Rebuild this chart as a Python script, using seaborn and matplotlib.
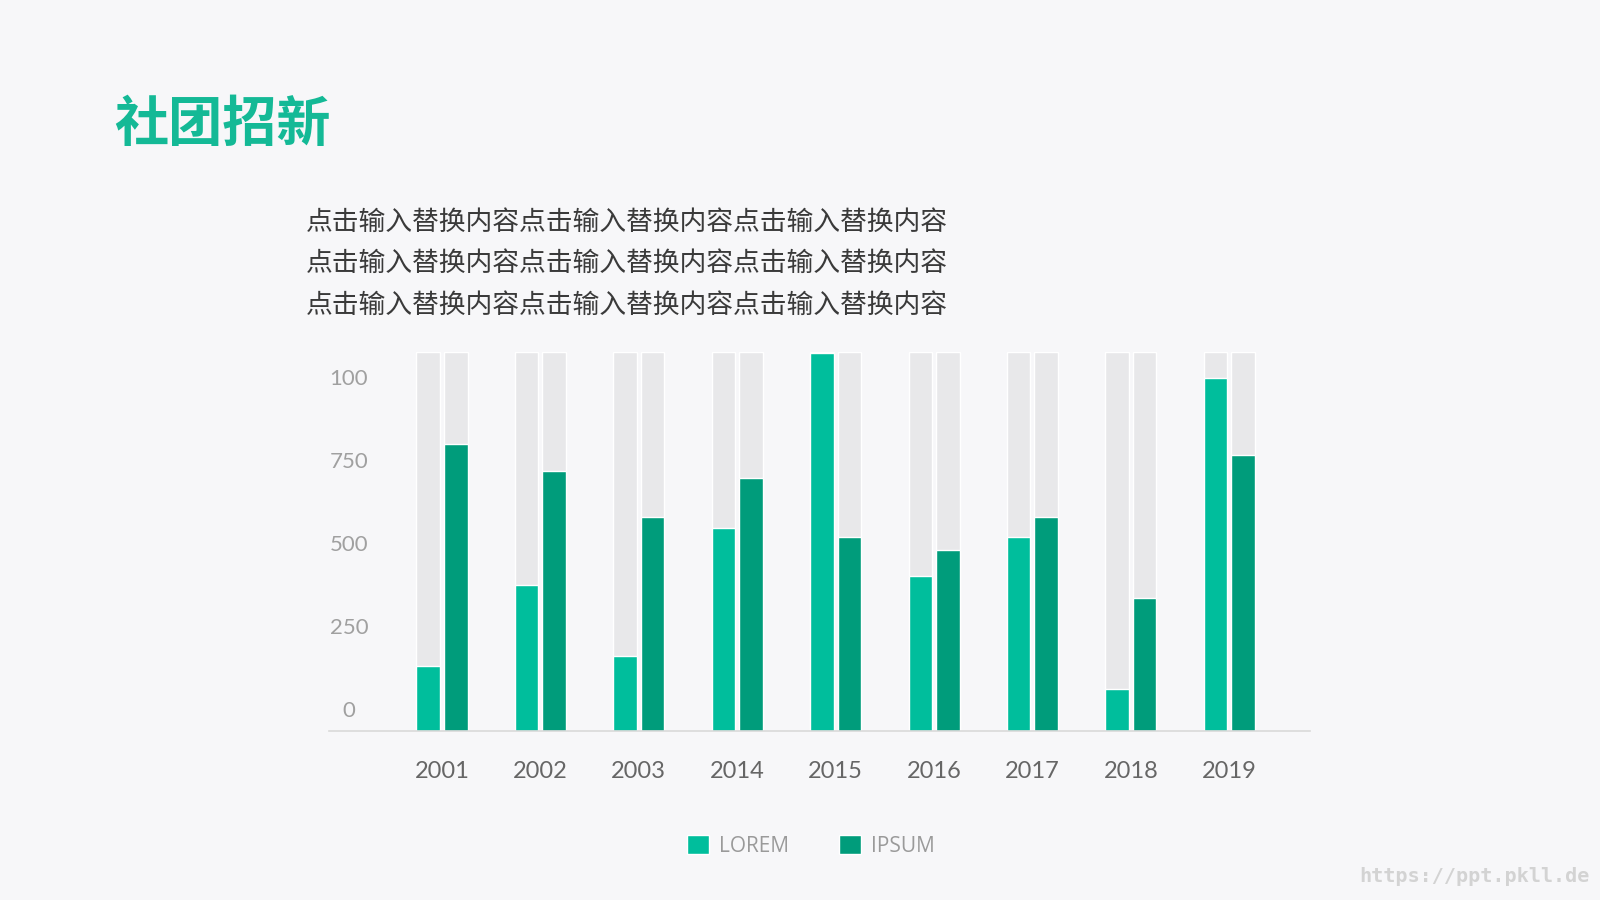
import matplotlib.pyplot as plt
import matplotlib.transforms as mtransforms
import pandas as pd
import seaborn as sns

years = ['2001', '2002', '2003', '2014', '2015', '2016', '2017', '2018', '2019']
lorem = [195, 439, 225, 611, 1138, 466, 583, 126, 1062]
ipsum = [864, 782, 644, 761, 583, 544, 644, 398, 830]
track_max = 1140
series_names = ['LOREM', 'IPSUM']
y_ticks = [0, 250, 500, 750, 1000]
y_tick_labels = ['0', '250', '500', '750', '100']

title = '社团招新'
para_lines = ['点击输入替换内容点击输入替换内容点击输入替换内容'] * 3
watermark = 'https://ppt.pkll.de'

BG = '#F7F7F9'
GRAY_BAR = '#E8E8EA'
C_LOREM = '#00BE9C'
C_IPSUM = '#009C7B'

sns.set_style('white', {'axes.facecolor': BG, 'figure.facecolor': BG})
plt.rcParams['font.family'] = ['Lato', 'Noto Sans CJK SC', 'DejaVu Sans']

df = pd.DataFrame({'year': years, 'LOREM': lorem, 'IPSUM': ipsum})
df = pd.melt(df, id_vars=['year'], value_vars=series_names,
             var_name='series', value_name='value')
bg = df.copy()
bg['value'] = track_max

fig = plt.figure(figsize=(16, 9), dpi=100)
ax = fig.add_axes([329 / 1600, 1 - 730.7 / 900, 981 / 1600, 378.7 / 900])

# gray "track" behind each bar
sns.barplot(data=bg, x='year', y='value', hue='series', order=years,
            hue_order=series_names, palette=[GRAY_BAR, GRAY_BAR],
            width=0.56, gap=0.146, saturation=1, errorbar=None,
            legend=False, ax=ax)
sns.barplot(data=df, x='year', y='value', hue='series', order=years,
            hue_order=series_names, palette=[C_LOREM, C_IPSUM],
            width=0.56, gap=0.146, saturation=1, errorbar=None, ax=ax)

ax.set_xlim(-1.148, 8.82)
ax.set_ylim(0, track_max)
ax.set_xlabel('')
ax.set_ylabel('')
sns.despine(ax=ax, left=True)
ax.spines['bottom'].set_color('#D9D9D9')
ax.spines['bottom'].set_linewidth(1.2)

ax.set_yticks(y_ticks)
ax.set_yticklabels(y_tick_labels)
ax.tick_params(axis='y', length=0, pad=0, labelsize=16, labelcolor='#A0A0A0')
ax.tick_params(axis='x', length=0, pad=22, labelsize=17, labelcolor='#666666')
shift = mtransforms.ScaledTranslation(0.20, 0.214, fig.dpi_scale_trans)
for lab in ax.get_yticklabels():
    lab.set_horizontalalignment('center')
    lab.set_transform(lab.get_transform() + shift)

leg = ax.legend(loc='center', bbox_to_anchor=(811 / 1600, 1 - 846 / 900),
                bbox_transform=fig.transFigure, ncol=2, frameon=False,
                handlelength=1.05, handleheight=1.05, handletextpad=0.5,
                columnspacing=2.4, fontsize=15)
for t in leg.get_texts():
    t.set_color('#9A9A9A')
    t.set_family(['Open Sans', 'DejaVu Sans'])

fig.text(114 / 1600, 1 - 125 / 900, title, va='center', ha='left',
         fontsize=39, fontweight='bold', color='#14B996',
         family=['Noto Sans CJK SC', 'DejaVu Sans'])
for i, line in enumerate(para_lines):
    fig.text(306 / 1600, 1 - (222 + 41.5 * i) / 900, line, va='center',
             ha='left', fontsize=19.3, fontweight='light', color='#3A3A3A',
             family=['Noto Sans CJK SC', 'DejaVu Sans'])

fig.text(1590 / 1600, 1 - 876 / 900, watermark, va='center', ha='right',
         fontsize=14.5, fontweight='bold', color='#D3D3D3',
         family=['DejaVu Sans Mono'])

plt.savefig('out.png', dpi=100, facecolor=BG)
